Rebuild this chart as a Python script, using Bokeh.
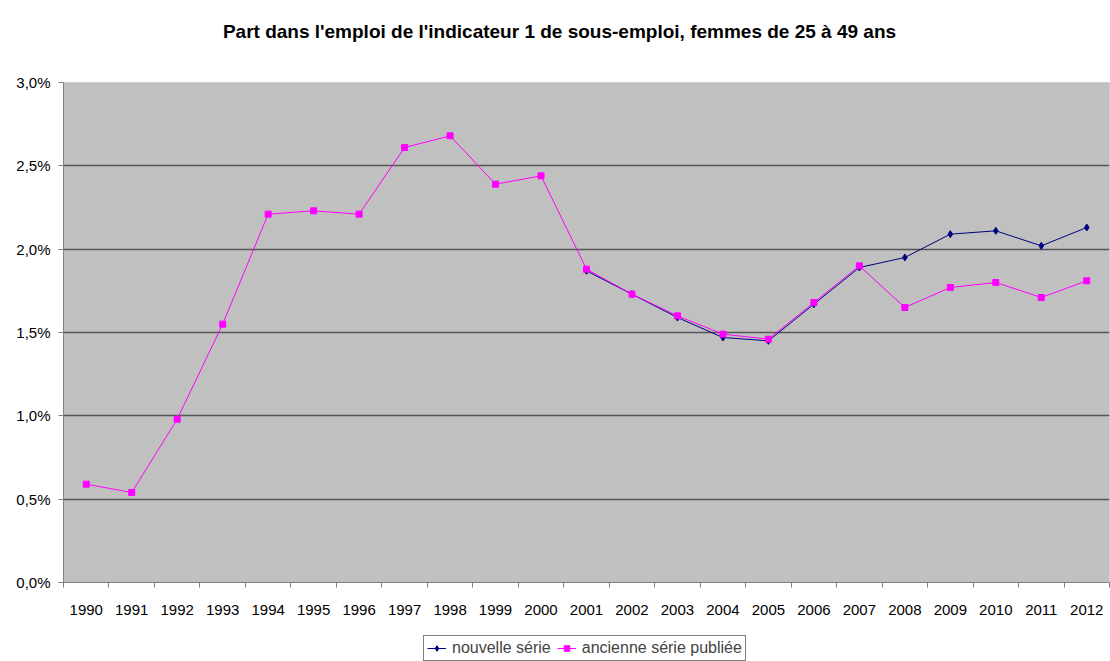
from bokeh.plotting import figure
from bokeh.layouts import column
from bokeh.models import (ColumnDataSource, FixedTicker, CustomJSTickFormatter,
                          Legend, LegendItem, Range1d, Label)
from bokeh.embed import file_html
from bokeh.resources import INLINE

nan = float("nan")

years = [1990, 1991, 1992, 1993, 1994, 1995, 1996, 1997, 1998, 1999, 2000,
         2001, 2002, 2003, 2004, 2005, 2006, 2007, 2008, 2009, 2010, 2011, 2012]

nouvelle_serie = [nan, nan, nan, nan, nan, nan, nan, nan, nan, nan, nan,
                  1.87, 1.73, 1.59, 1.47, 1.45, 1.67, 1.89, 1.95, 2.09, 2.11, 2.02, 2.13]

ancienne_serie = [0.59, 0.54, 0.98, 1.55, 2.21, 2.23, 2.21, 2.61, 2.68, 2.39, 2.44,
                  1.88, 1.73, 1.60, 1.49, 1.46, 1.68, 1.90, 1.65, 1.77, 1.80, 1.71, 1.81]

y_ticks = [0.0, 0.5, 1.0, 1.5, 2.0, 2.5, 3.0]

title_text = "Part dans l'emploi de l'indicateur 1 de sous-emploi, femmes de 25 à 49 ans"
label_new = "nouvelle série"
label_old = "ancienne série publiée"

FONT = "Liberation Sans"
NAVY = "#000080"
MAGENTA = "#ff00ff"

src = ColumnDataSource(dict(x=years, new=nouvelle_serie, old=ancienne_serie))


def strip(h):
    f = figure(width=1110, height=h, output_backend="svg", toolbar_location=None,
               x_axis_type=None, y_axis_type=None,
               x_range=Range1d(0, 1), y_range=Range1d(100, 101),
               min_border_left=0, min_border_right=0, min_border_top=0, min_border_bottom=0)
    f.outline_line_color = None
    f.background_fill_color = "white"
    f.border_fill_color = "white"
    f.xgrid.grid_line_color = None
    f.ygrid.grid_line_color = None
    return f


# ---- title strip ----
tp = strip(72)
tp.add_layout(Label(x=496, y=41, x_units="screen", y_units="screen", text=title_text,
                    text_font=FONT, text_font_size="19px", text_font_style="bold",
                    text_color="black", text_align="center", text_baseline="alphabetic"))

# ---- main chart ----
p = figure(width=1110, height=558, output_backend="svg", toolbar_location=None,
           x_range=Range1d(years[0] - 0.5, years[-1] + 0.5),
           y_range=Range1d(y_ticks[0], y_ticks[-1]),
           min_border_left=63, min_border_right=1, min_border_top=10,
           min_border_bottom=48)

p.background_fill_color = "#c0c0c0"
p.border_fill_color = "white"
p.outline_line_color = "#d0d0d0"
p.outline_line_width = 1

p.xaxis.ticker = FixedTicker(ticks=years, minor_ticks=[y - 0.5 for y in years] + [years[-1] + 0.5])
p.xaxis.formatter = CustomJSTickFormatter(code="return String(Math.round(tick));")
p.xaxis.major_tick_out = 0
p.xaxis.major_tick_in = 0
p.xaxis.minor_tick_out = 5
p.xaxis.minor_tick_in = 0
p.xaxis.minor_tick_line_color = "#808080"
p.xaxis.axis_line_color = "#808080"
p.xaxis.major_label_text_font = FONT
p.xaxis.major_label_text_font_size = "15px"
p.xaxis.major_label_text_color = "black"
p.xaxis.major_label_standoff = 17

p.yaxis.ticker = FixedTicker(ticks=y_ticks, minor_ticks=[])
p.yaxis.formatter = CustomJSTickFormatter(code="return tick.toFixed(1).replace('.', ',') + '%';")
p.yaxis.major_tick_out = 5
p.yaxis.major_tick_in = 0
p.yaxis.major_tick_line_color = "#808080"
p.yaxis.axis_line_color = "#808080"
p.yaxis.major_label_text_font = FONT
p.yaxis.major_label_text_font_size = "15px"
p.yaxis.major_label_text_color = "black"
p.yaxis.major_label_standoff = 8

p.xgrid.grid_line_color = None
p.ygrid.ticker = FixedTicker(ticks=y_ticks[1:-1])
p.ygrid.grid_line_color = "#555555"
p.ygrid.grid_line_width = 1.5

p.line("x", "new", source=src, line_color=NAVY, line_width=1)
p.scatter("x", "new", source=src, marker="diamond", size=7,
          fill_color=NAVY, line_color=NAVY)
p.line("x", "old", source=src, line_color=MAGENTA, line_width=1)
p.scatter("x", "old", source=src, marker="square", size=6,
          fill_color=MAGENTA, line_color=MAGENTA)

# ---- legend strip (series drawn off-range so only the legend shows) ----
lg = strip(31)
ln = lg.line("x", "new", source=src, line_color=NAVY, line_width=1)
sn = lg.scatter("x", "new", source=src, marker="diamond", size=7, fill_color=NAVY, line_color=NAVY)
lo = lg.line("x", "old", source=src, line_color=MAGENTA, line_width=1)
so = lg.scatter("x", "old", source=src, marker="square", size=6, fill_color=MAGENTA, line_color=MAGENTA)

legend = Legend(items=[LegendItem(label=label_new, renderers=[ln, sn]),
                       LegendItem(label=label_old, renderers=[lo, so])],
                orientation="horizontal", location=(360, 0),
                label_text_font=FONT, label_text_font_size="16px",
                border_line_color="black", border_line_width=1,
                glyph_width=19, glyph_height=14, label_standoff=6, label_height=18,
                spacing=6, padding=3, margin=0,
                background_fill_color="white")
lg.add_layout(legend, "center")

layout = column(tp, p, lg, spacing=0)
open("out.html", "w").write(file_html(layout, INLINE))
